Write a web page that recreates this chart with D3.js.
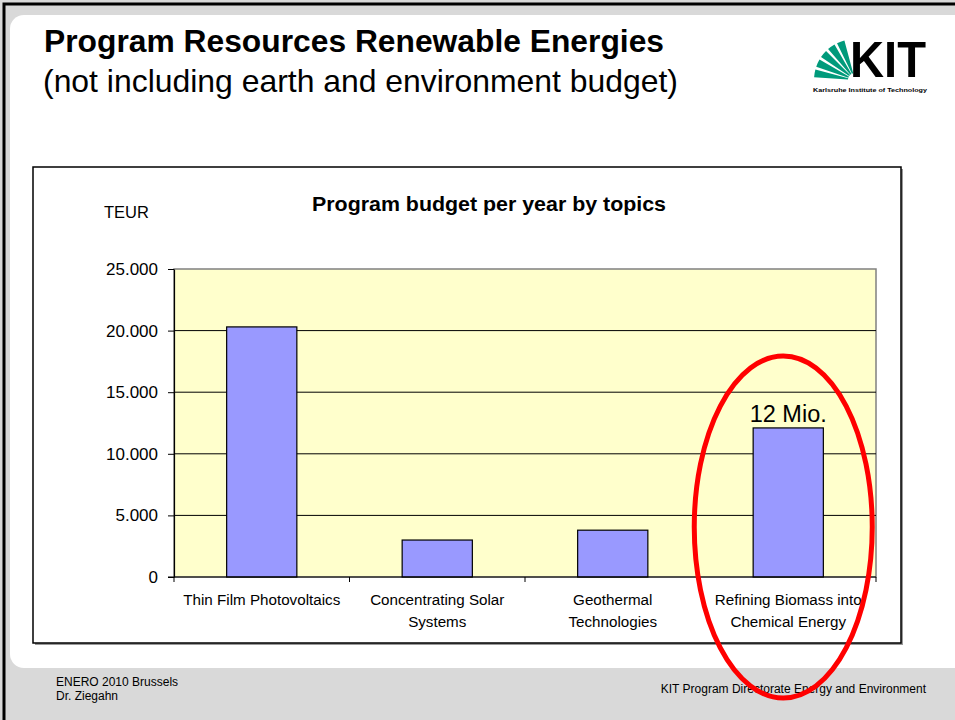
<!DOCTYPE html>
<html>
<head>
<meta charset="utf-8">
<script src="https://cdn.jsdelivr.net/npm/d3@7"></script>
<style>
	body { margin: 0; background: #fff; }
	svg { display: block; font-family: "Liberation Sans", Arial, sans-serif; }
</style>
</head>
<body>
<div class="c-svg"></div>
<script>
//DATA
//-------------------------------------------------------------------------
const categories = ["Thin Film Photovoltaics", "Concentrating Solar Systems", "Geothermal Technologies", "Refining Biomass into Chemical Energy"];
const categoryLines = [["Thin Film Photovoltaics"], ["Concentrating Solar", "Systems"], ["Geothermal", "Technologies"], ["Refining Biomass into", "Chemical Energy"]];
const values = [20300, 3000, 3800, 12100];
const yTicks = [0, 5000, 10000, 15000, 20000, 25000];
const highlightCategory = "Refining Biomass into Chemical Energy";
const highlightLabel = "12 Mio.";

//opts
const opts = {
	width: 955,
	height: 720,
	plot: { left: 174, right: 876, top: 269, bottom: 577 }
};

//german number format 25.000
const de = d3.formatLocale({ decimal: ",", thousands: ".", grouping: [3], currency: ["", " €"] });
const fmt = de.format(",");

const svg = d3.select(".c-svg")
	.append("svg")
	.attr("width", opts.width)
	.attr("height", opts.height);


//SLIDE BACKGROUND
//-------------------------------------------------------------------------
svg.append("rect")
	.attr("x", 0).attr("y", 0)
	.attr("width", opts.width).attr("height", opts.height)
	.attr("fill", "#d9d9d9");

svg.append("rect")
	.attr("x", 10).attr("y", 15)
	.attr("width", 960).attr("height", 653)
	.attr("rx", 14)
	.attr("fill", "#fff");

//black outer frame left and top
svg.append("path")
	.attr("d", "M4,720 V4 H955")
	.attr("fill", "none")
	.attr("stroke", "#000")
	.attr("stroke-width", 3);

//titles
svg.append("text")
	.attr("x", 44).attr("y", 52)
	.attr("font-size", 32)
	.attr("font-weight", "bold")
	.attr("textLength", 620)
	.attr("lengthAdjust", "spacingAndGlyphs")
	.attr("fill", "#000")
	.text("Program Resources Renewable Energies");

svg.append("text")
	.attr("x", 43).attr("y", 92)
	.attr("font-size", 32)
	.attr("textLength", 635)
	.attr("lengthAdjust", "spacingAndGlyphs")
	.attr("fill", "#000")
	.text("(not including earth and environment budget)");


//KIT LOGO
//-------------------------------------------------------------------------
const logo = svg.append("g").attr("class", "logo");

const fanArc = d3.arc().innerRadius(7).outerRadius(41);
const fanAngles = [[-86, -75], [-71, -60], [-56, -45], [-41, -30], [-26, -15]];
logo.selectAll(".ray")
	.data(fanAngles)
	.join("path")
	.attr("class", "ray")
	.attr("transform", "translate(855 80)")
	.attr("d", d => fanArc({ startAngle: d[0] * Math.PI / 180, endAngle: d[1] * Math.PI / 180 }))
	.attr("fill", "#009a7b");

logo.append("text")
	.attr("x", 850).attr("y", 77)
	.attr("font-size", 50)
	.attr("font-weight", "bold")
	.attr("textLength", 76)
	.attr("lengthAdjust", "spacingAndGlyphs")
	.attr("fill", "#000")
	.text("KIT");

logo.append("text")
	.attr("x", 813).attr("y", 92)
	.attr("font-size", 5)
	.attr("font-weight", "bold")
	.attr("textLength", 114)
	.attr("lengthAdjust", "spacingAndGlyphs")
	.attr("fill", "#000")
	.text("Karlsruhe Institute of Technology");


//CHART FRAME
//-------------------------------------------------------------------------
svg.append("rect")
	.attr("x", 35).attr("y", 169)
	.attr("width", 868).attr("height", 476)
	.attr("fill", "#999");

svg.append("rect")
	.attr("x", 33).attr("y", 167)
	.attr("width", 868).attr("height", 476)
	.attr("fill", "#fff")
	.attr("stroke", "#000")
	.attr("stroke-width", 1.5);

svg.append("text")
	.attr("x", 489).attr("y", 211)
	.attr("text-anchor", "middle")
	.attr("font-size", 19.5)
	.attr("font-weight", "bold")
	.attr("textLength", 354)
	.attr("lengthAdjust", "spacingAndGlyphs")
	.text("Program budget per year by topics");

svg.append("text")
	.attr("x", 104).attr("y", 218)
	.attr("font-size", 16.5)
	.text("TEUR");


//SCALES
//-------------------------------------------------------------------------
const x = d3.scaleBand()
	.domain(categories)
	.range([opts.plot.left, opts.plot.right])
	.paddingInner(0.6)
	.paddingOuter(0.3);

const y = d3.scaleLinear()
	.domain([0, 25000])
	.range([opts.plot.bottom, opts.plot.top]);

const g = svg.append("g").attr("class", "chart");

//plot area
g.append("rect")
	.attr("x", opts.plot.left)
	.attr("y", opts.plot.top)
	.attr("width", opts.plot.right - opts.plot.left)
	.attr("height", opts.plot.bottom - opts.plot.top)
	.attr("fill", "#ffffcc")
	.attr("stroke", "#808080")
	.attr("stroke-width", 1.5);

//gridlines
g.append("g")
	.selectAll("line")
	.data(yTicks.filter(d => d > 0 && d < 25000))
	.join("line")
	.attr("x1", opts.plot.left)
	.attr("x2", opts.plot.right)
	.attr("y1", d => y(d))
	.attr("y2", d => y(d))
	.attr("stroke", "#000")
	.attr("stroke-width", 1);

//BARS
//-------------------------------------------------------------------------
g.append("g")
	.selectAll("rect")
	.data(categories)
	.join("rect")
	.attr("x", d => x(d))
	.attr("y", (d, i) => y(values[i]))
	.attr("width", x.bandwidth())
	.attr("height", (d, i) => y(0) - y(values[i]))
	.attr("fill", "#9999ff")
	.attr("stroke", "#000")
	.attr("stroke-width", 1.2);

//AXIS
//-------------------------------------------------------------------------
const yAxis = d3.axisLeft(y)
	.tickValues(yTicks)
	.tickFormat(fmt)
	.tickSize(6)
	.tickPadding(10)
	.tickSizeOuter(0);

const yg = g.append("g")
	.attr("transform", `translate(${opts.plot.left} 0)`)
	.call(yAxis);
yg.select(".domain").attr("stroke", "#000").attr("stroke-width", 1.2);
yg.selectAll(".tick line").attr("stroke", "#000");
yg.selectAll("text")
	.attr("font-family", "Liberation Sans, Arial, sans-serif")
	.attr("font-size", 17)
	.attr("fill", "#000");

//x axis baseline
g.append("line")
	.attr("x1", opts.plot.left - 6).attr("x2", opts.plot.right)
	.attr("y1", y(0)).attr("y2", y(0))
	.attr("stroke", "#000")
	.attr("stroke-width", 1.2);

//x ticks on category boundaries
const step = x.step();
const boundaries = categories.map(d => x(d) - step * x.paddingInner() / 2 - (x(d) === x(categories[0]) ? step * (x.paddingOuter() - x.paddingInner() / 2) : 0));
boundaries.push(opts.plot.right);
g.append("g")
	.selectAll("line")
	.data(boundaries)
	.join("line")
	.attr("x1", d => d).attr("x2", d => d)
	.attr("y1", y(0)).attr("y2", y(0) + 5)
	.attr("stroke", "#000");

//category labels
const labels = g.append("g")
	.selectAll("text")
	.data(categories)
	.join("text")
	.attr("text-anchor", "middle")
	.attr("font-size", 15.2)
	.attr("fill", "#000")
	.attr("transform", d => `translate(${x(d) + x.bandwidth() / 2} ${y(0) + 28})`);

labels.selectAll("tspan")
	.data((d, i) => categoryLines[i])
	.join("tspan")
	.attr("x", 0)
	.attr("dy", (d, i) => i === 0 ? 0 : 22)
	.text(d => d);


//ANNOTATION
//-------------------------------------------------------------------------
const hi = categories.indexOf(highlightCategory);
g.append("text")
	.attr("x", x(highlightCategory) + x.bandwidth() / 2)
	.attr("y", y(values[hi]) - 6)
	.attr("text-anchor", "middle")
	.attr("font-size", 23.5)
	.text(highlightLabel);


//FOOTER
//-------------------------------------------------------------------------
svg.append("text")
	.attr("x", 56).attr("y", 686)
	.attr("font-size", 12)
	.text("ENERO 2010 Brussels");

svg.append("text")
	.attr("x", 56).attr("y", 700)
	.attr("font-size", 12)
	.text("Dr. Ziegahn");

svg.append("text")
	.attr("x", 926).attr("y", 693)
	.attr("text-anchor", "end")
	.attr("font-size", 12)
	.text("KIT Program Directorate Energy and Environment");

//red ellipse on top
svg.append("ellipse")
	.attr("cx", x(highlightCategory) + x.bandwidth() / 2 - 5)
	.attr("cy", 527)
	.attr("rx", 89)
	.attr("ry", 171)
	.attr("fill", "none")
	.attr("stroke", "#ff0000")
	.attr("stroke-width", 5);
</script>
</body>
</html>
